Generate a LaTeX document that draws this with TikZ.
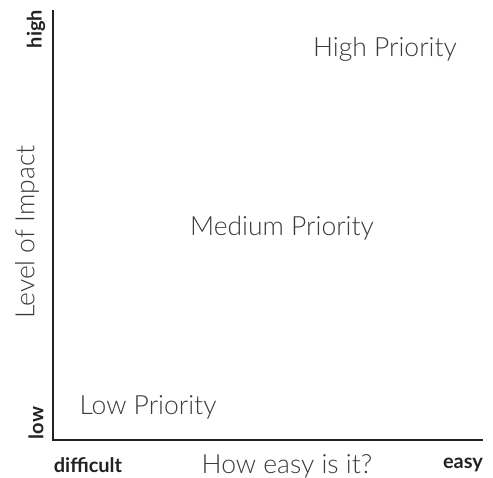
\documentclass[tikz,border=0pt]{standalone}
\usepackage{fontspec}
\setmainfont{Lato}
\newfontfamily\latolight{Lato Light}
\newfontfamily\latobold{Lato Bold}
\definecolor{axisc}{HTML}{222222}
\definecolor{lightc}{HTML}{3A3A3A}
\begin{document}
\begin{tikzpicture}[x=1pt,y=-1pt,
  lbl/.style={font=\latolight\fontsize{26.5}{30}\selectfont, text=lightc, inner sep=0pt},
  endlbl/.style={font=\latobold\fontsize{20}{24}\selectfont, text=axisc, inner sep=0pt},
  axisline/.style={draw=axisc, line width=2.2pt}]
\useasboundingbox (0,0) rectangle (493,478);
\coordinate (top) at (53,10);
\coordinate (origin) at (53,440);
\coordinate (right) at (483,440);
\draw[axisline] (top) -- (origin) -- (right);
\node[endlbl, rotate=90] (high) at (36,29) {high};
\node[endlbl, rotate=90] (low) at (36,423) {low};
\node[endlbl] (difficult) at (88,465) {difficult};
\node[endlbl] (easy) at (463,465) {easy};
\node[lbl] (xlab) at (287,466) {How easy is it?};
\node[lbl, rotate=90] (ylab) at (27,232) {Level of Impact};
\node[lbl] (hp) at (385,49) {High Priority};
\node[lbl] (mp) at (282,228) {Medium Priority};
\node[lbl] (lp) at (148,407) {Low Priority};
\end{tikzpicture}
\end{document}
